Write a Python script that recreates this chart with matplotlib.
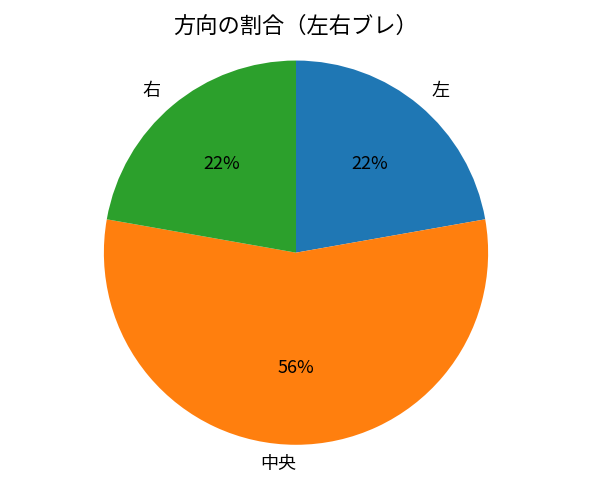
import matplotlib
matplotlib.use("Agg")
import matplotlib.pyplot as plt

plt.rcParams['font.family'] = ['Noto Sans CJK JP', 'DejaVu Sans']

labels = ["左", "中央", "右"]
counts = [2, 5, 2]
colors = ["#1f77b4", "#ff7f0e", "#2ca02c"]

fig, ax = plt.subplots(figsize=(5.92, 4.88), dpi=100)
ax.pie(counts, labels=labels, colors=colors, autopct="%1.0f%%",
       startangle=90, counterclock=False,
       textprops={"fontsize": 13})
ax.set_title("方向の割合（左右ブレ）", fontsize=16)
ax.axis("equal")
fig.tight_layout()
fig.savefig("out.png", dpi=100)
